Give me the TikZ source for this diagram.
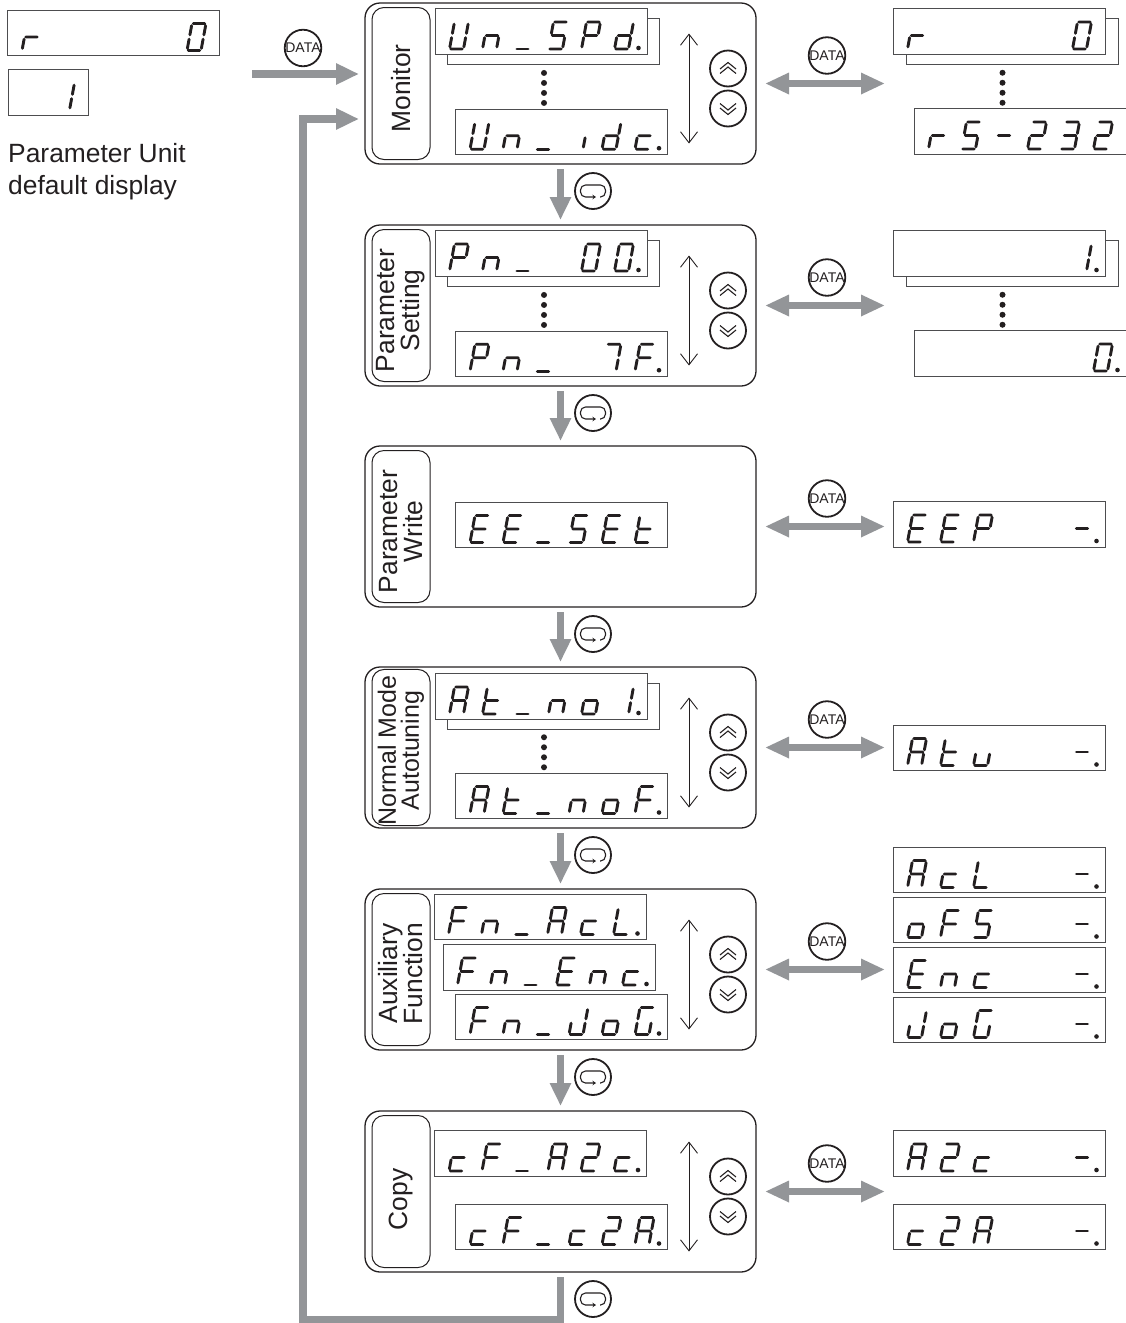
\documentclass[tikz,border=0pt]{standalone}
\usepackage{fontspec}
\setmainfont{Liberation Sans}
\usepackage{xcolor}
\usetikzlibrary{arrows.meta, positioning, calc}
\definecolor{flowgrey}{HTML}{939598}
\definecolor{inkblack}{HTML}{231F20}
\definecolor{dispgrey}{HTML}{4D4D4F}
% the seven segments, on a unit square
\newcommand{\segA}{(.1,1)--(.9,1)}
\newcommand{\segB}{(1,.92)--(1,.58)}
\newcommand{\segC}{(1,.42)--(1,.08)}
\newcommand{\segD}{(.1,0)--(.9,0)}
\newcommand{\segE}{(0,.08)--(0,.42)}
\newcommand{\segF}{(0,.92)--(0,.58)}
\newcommand{\segG}{(.1,.5)--(.9,.5)}
\newcommand{\defglyph}[2]{\expandafter\def\csname gl#1\endcsname{#2}}
\defglyph{sp}{}
\defglyph{us}{\segD}
\defglyph{mn}{\segG}
\defglyph{0}{\segA\segB\segC\segD\segE\segF}
\defglyph{1}{\segB\segC}
\defglyph{2}{\segA\segB\segG\segE\segD}
\defglyph{3}{\segA\segB\segG\segC\segD}
\defglyph{7}{\segA\segB\segC}
\defglyph{A}{\segA\segB\segC\segE\segF\segG}
\defglyph{E}{\segA\segD\segE\segF\segG}
\defglyph{F}{\segA\segE\segF\segG}
\defglyph{G}{\segA\segC\segD\segE\segF}
\defglyph{J}{\segB\segC\segD\segE}
\defglyph{L}{\segD\segE\segF}
\defglyph{P}{\segA\segB\segE\segF\segG}
\defglyph{S}{\segA\segC\segD\segF\segG}
\defglyph{U}{\segB\segC\segD\segE\segF}
\defglyph{c}{\segD\segE\segG}
\defglyph{d}{\segB\segC\segD\segE\segG}
\defglyph{i}{\segC}
\defglyph{n}{\segC\segE\segG}
\defglyph{o}{\segC\segD\segE\segG}
\defglyph{r}{\segE\segG}
\defglyph{t}{\segD\segE\segF\segG}
\defglyph{u}{\segC\segD\segE}
% digits of a display, then its decimal point
\newcommand{\segs}[2]{%
  \foreach \ch [count=\i from 0] in {#2} {
    \expandafter\let\expandafter\curglyph\csname gl\ch\endcsname
    \draw[segline, shift={($(#1.west)+(14.5+33*\i,17.5)$)},
          x={(14pt,0pt)}, y={(5pt,27pt)}] \curglyph;
  }}
\newcommand{\segdot}[1]{\fill[inkblack] ($(#1.west)+(203.5,16.5)$) circle (2.3);}
\newcommand{\stackdots}[1]{%
  \foreach \k in {6,16,26,36} \fill[inkblack] ([shift={(-17.5,-\k)}]#1.north) circle (3);}
% pushes the words of a tab down its box
\newcommand{\tabpad}[1]{\rule{#1}{0pt}}
% up and down keys of a panel
\newcommand{\panelkeys}[1]{%
  \coordinate (#1top) at ([shift={(128.5,-50)}]#1.center);
  \coordinate (#1bot) at ([shift={(128.5,60)}]#1.center);
  \draw[updown] (#1top) -- (#1bot);
  \node[keybtn] (#1up) at ([shift={(167.5,-15)}]#1.center) {};
  \node[keybtn] (#1dn) at ([shift={(167.5,25)}]#1.center) {};
  \draw[chev, shift={(#1up.center)}] (-8,.5) -- (0,-6) -- (8,.5) (-8,5) -- (0,-1.5) -- (8,5);
  \draw[chev, shift={(#1dn.center)}] (-8,-.5) -- (0,6) -- (8,-.5) (-8,-5) -- (0,1.5) -- (8,-5);}
% mode key beside the arrow under a panel
\newcommand{\modekey}[1]{%
  \node[keybtn] (#1mode) at ([shift={(32.5,27)}]#1.south) {};
  \draw[chev, rounded corners=5pt, -{Stealth[length=3.5pt,width=4.5pt]}, shift={(#1mode.center)}]
    (7,6) -- (12.5,6) -- (12.5,-6) -- (-12.5,-6) -- (-12.5,6) -- (3,6);}
% DATA key and arrow from a panel to its display
\newcommand{\datalink}[2]{%
  \draw[flowboth] (#1.east) -- (#1.east -| #2.west);
  \node[databtn] (#1data) at ([shift={(71,-28)}]#1.east) {DATA};}

\begin{document}
\begin{tikzpicture}[
    x=1pt, y=-1pt,
    panel/.style={draw=inkblack, line width=1.3pt, rounded corners=15pt, outer sep=0pt,
                  minimum width=391pt, minimum height=161pt},
    tab/.style={draw=inkblack, line width=1pt, rounded corners=12pt, rotate=90, inner sep=0pt,
                minimum width=152pt, minimum height=58pt, align=center,
                font=\fontsize{26.4}{25}\selectfont, text=inkblack},
    disp/.style={draw=dispgrey, line width=.9pt, fill=white, inner sep=0pt, outer sep=0pt,
                 minimum width=212pt, minimum height=45.5pt, text opacity=0,
                 font=\fontsize{20}{20}\selectfont},
    segline/.style={line width=2.9pt, line cap=round, draw=inkblack},
    flow/.style={line width=7.5pt, draw=flowgrey, line join=miter,
                 -{Triangle[length=23pt,width=20pt]}},
    flowboth/.style={line width=7.5pt, draw=flowgrey, shorten <=9pt, shorten >=8pt,
                 {Triangle[length=24pt,width=20pt]}-{Triangle[length=24pt,width=20pt]}},
    updown/.style={line width=.9pt, draw=inkblack,
                 {Straight Barb[length=11pt,width=17pt]}-{Straight Barb[length=11pt,width=17pt]}},
    keybtn/.style={circle, draw=inkblack, line width=1.8pt, minimum size=36pt, inner sep=0pt},
    databtn/.style={keybtn, font=\fontsize{14}{14}\selectfont, text=inkblack},
    chev/.style={line width=1.1pt, draw=inkblack},
    note/.style={align=left, inner sep=0pt, text=inkblack,
                 font=\fontsize{26.4}{32}\selectfont},
]
\useasboundingbox (0,0) rectangle (1126,1323);

\node[disp] (defval) at (113.5,33) {r 0};
\node[disp, minimum width=80pt] (defnum) at (48,92.5) {1};
\node[note, anchor=north west] (defnote) at (8,143) {Parameter Unit\\default display};
\segs{defval}{r,sp,sp,sp,sp,0}
\segs{defnum}{sp,1}

\node[panel] (monitor) at (560.5,83.5) {};
\node[panel, below=61pt of monitor] (setting) {};
\node[panel, below=60pt of setting] (write) {};
\node[panel, below=60pt of write] (autotune) {};
\node[panel, below=61pt of autotune] (auxfn) {};
\node[panel, below=61pt of auxfn] (copy) {};

\node[tab] (montab) at ([xshift=36pt]monitor.west) {Monitor\tabpad{10pt}};
\node[tab] (settab) at ([xshift=36pt]setting.west) {Parameter\tabpad{10pt}\\Setting\tabpad{10pt}};
\node[tab] (wrtab) at ([xshift=36pt]write.west) {Parameter\tabpad{10pt}\\Write\tabpad{10pt}};
\node[tab, font=\fontsize{25}{23}\selectfont] (attab) at ([xshift=36pt]autotune.west) {Normal Mode\tabpad{6pt}\\Autotuning\tabpad{6pt}};
\node[tab] (fntab) at ([xshift=36pt]auxfn.west) {Auxiliary\tabpad{8pt}\\Function\tabpad{8pt}};
\node[tab] (cptab) at ([xshift=36pt]copy.west) {Copy\tabpad{16pt}};

% Monitor
\node[disp] (unback) at (553.5,41.5) {};
\node[disp] (unspd) at (541,31.5) {Un\_SPd.};
\node[disp] (unidc) at (561.5,131.7) {Un\_ idc.};
\segs{unspd}{U,n,us,S,P,d} \segdot{unspd}
\segs{unidc}{U,n,us,i,d,c} \segdot{unidc}
\stackdots{unidc}
\panelkeys{monitor}
\node[disp] (rback) at (1012.5,41.5) {};
\node[disp] (rzero) at (999,31.5) {r 0};
\node[disp] (rcomm) at (1020,131.5) {rS-232};
\segs{rzero}{r,sp,sp,sp,sp,0}
\segs{rcomm}{r,S,mn,2,3,2}
\stackdots{rcomm}
\datalink{monitor}{rzero}

% Parameter Setting
\node[disp] (pnback) at (553.5,263.5) {};
\node[disp] (pnzero) at (541,253.5) {Pn\_ 00.};
\node[disp] (pnlast) at (561.5,353.7) {Pn\_ 7F.};
\segs{pnzero}{P,n,us,sp,0,0} \segdot{pnzero}
\segs{pnlast}{P,n,us,sp,7,F} \segdot{pnlast}
\stackdots{pnlast}
\panelkeys{setting}
\node[disp] (valback) at (1012.5,263.5) {};
\node[disp] (valone) at (999,253.5) {1.};
\node[disp] (valzero) at (1020,353.5) {0.};
\segs{valone}{sp,sp,sp,sp,sp,1} \segdot{valone}
\segs{valzero}{sp,sp,sp,sp,sp,0} \segdot{valzero}
\stackdots{valzero}
\datalink{setting}{valone}

% Parameter Write
\node[disp] (eeset) at (561.5,525) {EE\_SEt};
\segs{eeset}{E,E,us,S,E,t}
\node[disp] (eep) at (999,524.5) {EEP -.};
\segs{eep}{E,E,P,sp,sp,mn} \segdot{eep}
\datalink{write}{eep}

% Normal Mode Autotuning
\node[disp] (atback) at (553.5,706.5) {};
\node[disp] (atone) at (541,696.5) {At\_no1.};
\node[disp] (atlast) at (561.5,796) {At\_noF.};
\segs{atone}{A,t,us,n,o,1} \segdot{atone}
\segs{atlast}{A,t,us,n,o,F} \segdot{atlast}
\stackdots{atlast}
\panelkeys{autotune}
\node[disp] (atu) at (999,748) {Atu -.};
\segs{atu}{A,t,u,sp,sp,mn} \segdot{atu}
\datalink{autotune}{atu}

% Auxiliary Function
\node[disp] (fnacl) at (540,917) {Fn\_AcL.};
\node[disp] (fnenc) at (549,967.5) {Fn\_Enc.};
\node[disp] (fnjog) at (561.5,1017) {Fn\_JoG.};
\segs{fnacl}{F,n,us,A,c,L} \segdot{fnacl}
\segs{fnenc}{F,n,us,E,n,c} \segdot{fnenc}
\segs{fnjog}{F,n,us,J,o,G} \segdot{fnjog}
\panelkeys{auxfn}
\node[disp] (acl) at (999,870) {AcL -.};
\node[disp] (ofs) at (999,920) {oFS -.};
\node[disp] (enc) at (999,970) {Enc -.};
\node[disp] (jog) at (999,1020) {JoG -.};
\segs{acl}{A,c,L,sp,sp,mn} \segdot{acl}
\segs{ofs}{o,F,S,sp,sp,mn} \segdot{ofs}
\segs{enc}{E,n,c,sp,sp,mn} \segdot{enc}
\segs{jog}{J,o,G,sp,sp,mn} \segdot{jog}
\datalink{auxfn}{enc}

% Copy
\node[disp] (cfatoc) at (540.5,1153.5) {cF\_A2c.};
\node[disp] (cfctoa) at (561.5,1227) {cF\_c2A.};
\segs{cfatoc}{c,F,us,A,2,c} \segdot{cfatoc}
\segs{cfctoa}{c,F,us,c,2,A} \segdot{cfctoa}
\panelkeys{copy}
\node[disp] (atoc) at (999,1153.5) {A2c -.};
\node[disp] (ctoa) at (999,1227) {c2A -.};
\segs{atoc}{A,2,c,sp,sp,mn} \segdot{atoc}
\segs{ctoa}{c,2,A,sp,sp,mn} \segdot{ctoa}
\datalink{copy}{atoc}

% mode arrows
\draw[flow, shorten <=5pt, shorten >=5pt] (monitor) -- (setting);
\draw[flow, shorten <=5pt, shorten >=5pt] (setting) -- (write);
\draw[flow, shorten <=5pt, shorten >=5pt] (write) -- (autotune);
\draw[flow, shorten <=5pt, shorten >=5pt] (autotune) -- (auxfn);
\draw[flow, shorten <=5pt, shorten >=5pt] (auxfn) -- (copy);
\modekey{monitor}
\modekey{setting}
\modekey{write}
\modekey{autotune}
\modekey{auxfn}
\modekey{copy}

% entry from the default display and return from Copy
\coordinate (entry) at (252,74);
\coordinate (retright) at (560.5,1319.5);
\coordinate (retleft) at (303,1319.5);
\node[databtn] (entrydata) at (303,48) {DATA};
\draw[flow, shorten >=6pt] (entry) -- ([yshift=9.5pt]monitor.west);
\draw[flow, shorten <=5pt, shorten >=6pt] (copy.south) -- (retright) -- (retleft)
    |- ([yshift=-35.5pt]monitor.west);

\end{tikzpicture}
\end{document}
